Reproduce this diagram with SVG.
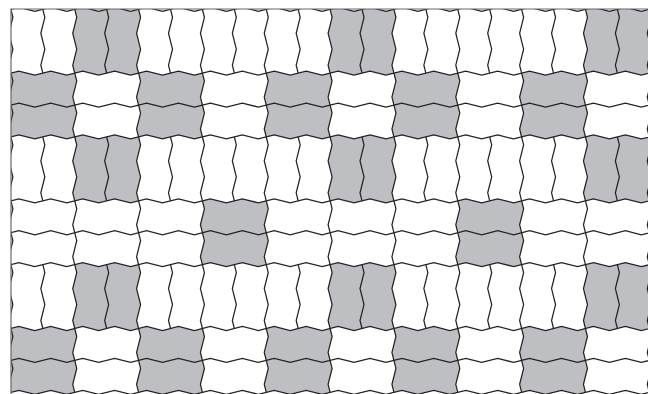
<svg xmlns="http://www.w3.org/2000/svg" xmlns:xlink="http://www.w3.org/1999/xlink" width="648" height="394" viewBox="0 0 648 394">
<style>
.ln{fill:none;stroke:#222;stroke-width:1.25;stroke-linejoin:miter}
.gc{fill:#bebfc3;stroke:none}
.bd{fill:none;stroke:#6a6a6a;stroke-width:1.2}
</style>
<defs>
<clipPath id="clip"><rect x="11" y="9" width="637" height="385"/></clipPath>
<path id="cell" d="M0 0l8-2 16 4 16-4 16 4 8-2 2 8-4 16 4 16-4 16 2 8-8 2-16-4-16 4-16-4-8 2-2-8 4-16-4-16 4-16-2-8z"/>
<path id="hl" d="M-8 2l16-4 16 4 16-4 16 4 16-4 16 4 16-4 16 4 16-4 16 4 16-4 16 4 16-4 16 4 16-4 16 4 16-4 16 4 16-4 16 4 16-4 16 4 16-4 16 4 16-4 16 4 16-4 16 4 16-4 16 4 16-4 16 4 16-4 16 4 16-4 16 4 16-4 16 4 16-4 16 4 16-4 16 4"/>
<path id="vl" d="M0 0l2 8-4 16 4 16-4 16 2 8"/>
<g id="vrow">
<use href="#vl" x="0"/><use href="#vl" x="32"/><use href="#vl" x="64"/><use href="#vl" x="96"/><use href="#vl" x="128"/><use href="#vl" x="160"/><use href="#vl" x="192"/><use href="#vl" x="224"/><use href="#vl" x="256"/><use href="#vl" x="288"/><use href="#vl" x="320"/><use href="#vl" x="352"/><use href="#vl" x="384"/><use href="#vl" x="416"/><use href="#vl" x="448"/><use href="#vl" x="480"/><use href="#vl" x="512"/><use href="#vl" x="544"/><use href="#vl" x="576"/><use href="#vl" x="608"/><use href="#vl" x="640"/>
</g>
<g id="hrow">
<use href="#vl" x="0"/><use href="#vl" x="64"/><use href="#vl" x="128"/><use href="#vl" x="192"/><use href="#vl" x="256"/><use href="#vl" x="320"/><use href="#vl" x="384"/><use href="#vl" x="448"/><use href="#vl" x="512"/><use href="#vl" x="576"/><use href="#vl" x="640"/>
<use href="#hl" y="32"/>
</g>
</defs>
<g id="paving" clip-path="url(#clip)">
<g transform="translate(10.9 9.3) scale(0.9975)">
<g id="grey-fills" class="gc">
<use href="#cell" x="64" y="0"/><use href="#cell" x="320" y="0"/><use href="#cell" x="576" y="0"/>
<use href="#cell" x="0" y="64"/><use href="#cell" x="128" y="64"/><use href="#cell" x="256" y="64"/><use href="#cell" x="384" y="64"/><use href="#cell" x="512" y="64"/>
<use href="#cell" x="64" y="128"/><use href="#cell" x="320" y="128"/><use href="#cell" x="576" y="128"/>
<use href="#cell" x="192" y="192"/><use href="#cell" x="448" y="192"/>
<use href="#cell" x="64" y="256"/><use href="#cell" x="320" y="256"/><use href="#cell" x="576" y="256"/>
<use href="#cell" x="0" y="320"/><use href="#cell" x="128" y="320"/><use href="#cell" x="256" y="320"/><use href="#cell" x="384" y="320"/><use href="#cell" x="512" y="320"/>
</g>
<g id="joints" class="ln">
<use href="#hl" y="0"/><use href="#hl" y="64"/><use href="#hl" y="128"/><use href="#hl" y="192"/><use href="#hl" y="256"/><use href="#hl" y="320"/><use href="#hl" y="384"/>
<use href="#vrow" y="0"/><use href="#vrow" y="128"/><use href="#vrow" y="256"/>
<use href="#hrow" y="64"/><use href="#hrow" y="192"/><use href="#hrow" y="320"/>
</g>
</g>
</g>
<g id="border" class="bd">
<path d="M11 394V9H648"/>
</g>
</svg>
